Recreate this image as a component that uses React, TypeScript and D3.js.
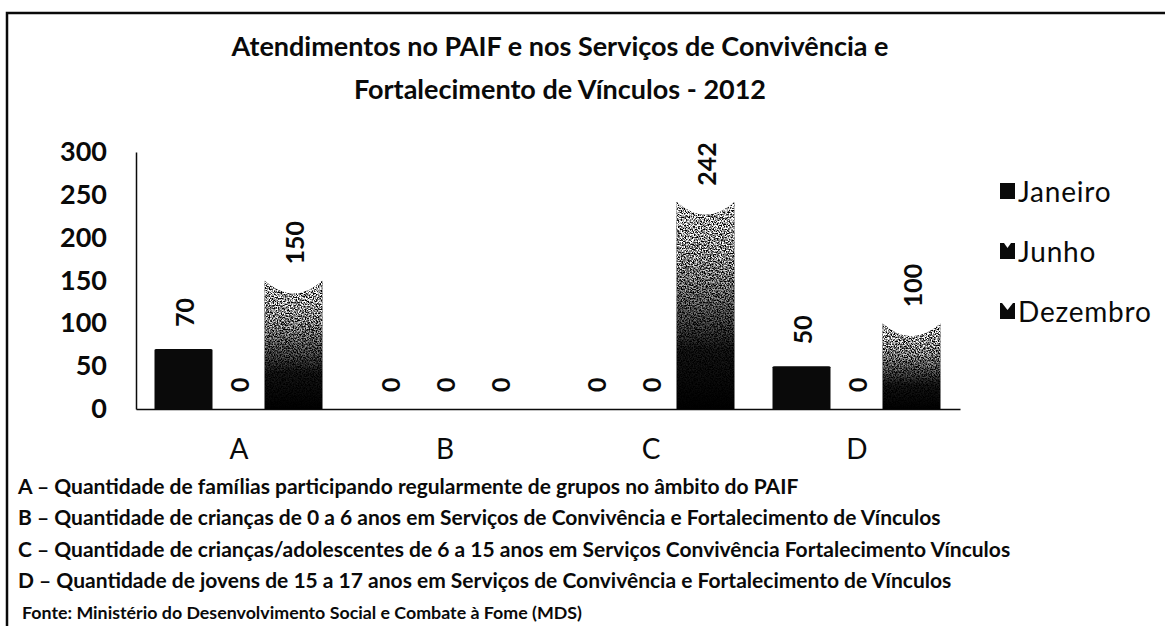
import * as React from "react";
import * as d3 from "d3";

const categories = ["A", "B", "C", "D"];
const seriesNames = ["Janeiro", "Junho", "Dezembro"];
const janeiro = [70, 0, 0, 50];
const junho = [0, 0, 0, 0];
const dezembro = [150, 0, 242, 100];
const yTicks = [0, 50, 100, 150, 200, 250, 300];

const titleLines = [
  "Atendimentos no PAIF e nos Serviços de Convivência e",
  "Fortalecimento de Vínculos - 2012",
];
const notes = [
  "A – Quantidade de famílias participando regularmente de grupos no âmbito do PAIF",
  "B – Quantidade de crianças de 0 a 6 anos em Serviços de Convivência e Fortalecimento de Vínculos",
  "C – Quantidade de crianças/adolescentes de 6 a 15 anos em Serviços Convivência Fortalecimento Vínculos",
  "D – Quantidade de jovens de 15 a 17 anos em Serviços de Convivência e Fortalecimento de Vínculos",
];
const source = "Fonte: Ministério do Desenvolvimento Social e Combate à Fome (MDS)";

function drawChart(svgRef) {
  const svg = d3.select(svgRef.current);
  svg.selectAll("*").remove();

  const width = 1165;
  const height = 626;
  const left = 136;
  const right = 960;
  const top = 152;
  const bottom = 409;
  const font = "Lato, 'Open Sans', sans-serif";
  const ink = "#0a0a0a";

  svg.attr("width", width).attr("height", height).style("background", "#fff");

  const defs = svg.append("defs");
  const grad = defs
    .append("linearGradient")
    .attr("id", "dezGrad")
    .attr("x1", 0)
    .attr("y1", 0)
    .attr("x2", 0)
    .attr("y2", 1);
  grad.append("stop").attr("offset", "0%").attr("stop-color", "#a0a0a0");
  grad.append("stop").attr("offset", "35%").attr("stop-color", "#606060");
  grad.append("stop").attr("offset", "72%").attr("stop-color", "#0c0c0c");
  grad.append("stop").attr("offset", "100%").attr("stop-color", "#000");

  // speckled, scanned look on the Dezembro bars
  const grain = defs
    .append("filter")
    .attr("id", "grain")
    .attr("x", 0)
    .attr("y", 0)
    .attr("width", 1)
    .attr("height", 1)
    .attr("color-interpolation-filters", "sRGB");
  grain
    .append("feTurbulence")
    .attr("type", "fractalNoise")
    .attr("baseFrequency", 0.75)
    .attr("numOctaves", 2)
    .attr("seed", 7)
    .attr("result", "noise");
  grain
    .append("feColorMatrix")
    .attr("in", "noise")
    .attr("type", "matrix")
    .attr("values", "1 0 0 0 0  1 0 0 0 0  1 0 0 0 0  0 0 0 0 1")
    .attr("result", "gray");
  const ct = grain
    .append("feComponentTransfer")
    .attr("in", "gray")
    .attr("result", "contrast");
  ["feFuncR", "feFuncG", "feFuncB"].forEach((f) =>
    ct.append(f).attr("type", "linear").attr("slope", 3.2).attr("intercept", -1.1)
  );
  grain
    .append("feComposite")
    .attr("in", "contrast")
    .attr("in2", "SourceGraphic")
    .attr("operator", "arithmetic")
    .attr("k1", 2.2)
    .attr("k2", 0)
    .attr("k3", 0)
    .attr("k4", 0)
    .attr("result", "mix");
  grain
    .append("feComposite")
    .attr("in", "mix")
    .attr("in2", "SourceGraphic")
    .attr("operator", "in");

  // frame
  svg
    .append("path")
    .attr("d", `M7,${height} V13 H${width}`)
    .attr("fill", "none")
    .attr("stroke", ink)
    .attr("stroke-width", 2.5);

  // title
  svg
    .append("g")
    .selectAll("text")
    .data(titleLines)
    .enter()
    .append("text")
    .attr("x", 560)
    .attr("y", (d, i) => 45 + i * 43)
    .attr("text-anchor", "middle")
    .attr("dominant-baseline", "central")
    .attr("font-family", font)
    .attr("font-weight", "bold")
    .attr("font-size", 27)
    .attr("fill", ink)
    .text((d) => d);

  const x = d3.scaleBand().domain(categories).range([left, right]);
  const xInner = d3.scaleBand().domain(seriesNames).range([20, 185]);
  const y = d3.scaleLinear().domain([0, 300]).range([bottom, top]);
  const bw = xInner.bandwidth() + 3;

  const yAxis = d3
    .axisLeft(y)
    .tickValues(yTicks)
    .tickSize(0)
    .tickSizeOuter(0)
    .tickPadding(29);

  const gy = svg
    .append("g")
    .attr("transform", `translate(${left},0)`)
    .call(yAxis);
  gy.select(".domain").attr("stroke", ink).attr("stroke-width", 1.5);
  gy.selectAll("text")
    .attr("font-family", font)
    .attr("font-weight", "bold")
    .attr("font-size", 27)
    .attr("fill", ink);

  const xAxis = d3.axisBottom(x).tickSize(0).tickSizeOuter(0).tickPadding(30);
  const gx = svg
    .append("g")
    .attr("transform", `translate(0,${bottom})`)
    .call(xAxis);
  gx.select(".domain").attr("stroke", ink).attr("stroke-width", 1.5);
  gx.selectAll("text")
    .attr("font-family", font)
    .attr("font-size", 28)
    .attr("fill", ink);

  const rows = categories.map((c, i) => ({
    cat: c,
    values: [
      { s: "Janeiro", v: janeiro[i] },
      { s: "Junho", v: junho[i] },
      { s: "Dezembro", v: dezembro[i] },
    ],
  }));

  const groups = svg
    .append("g")
    .selectAll("g")
    .data(rows)
    .enter()
    .append("g")
    .attr("transform", (d) => `translate(${x(d.cat)},0)`);

  const dip = 13;
  groups
    .selectAll("path.bar")
    .data((d) => d.values.filter((e) => e.v > 0))
    .enter()
    .append("path")
    .attr("class", "bar")
    .attr("d", (d) => {
      const cx = xInner(d.s) + xInner.bandwidth() / 2;
      const x0 = cx - bw / 2;
      const x1 = cx + bw / 2;
      const yt = y(d.v);
      if (d.s === "Dezembro") {
        return `M${x0},${yt} Q${cx},${yt + dip * 2} ${x1},${yt} L${x1},${bottom} L${x0},${bottom} Z`;
      }
      return `M${x0},${yt + 1} Q${x0},${yt} ${x0 + 2},${yt} L${x1 - 2},${yt} Q${x1},${yt} ${x1},${yt + 1} L${x1},${bottom} L${x0},${bottom} Z`;
    })
    .attr("fill", (d) => (d.s === "Dezembro" ? "url(#dezGrad)" : ink))
    .attr("filter", (d) => (d.s === "Dezembro" ? "url(#grain)" : null));

  groups
    .selectAll("text.lbl")
    .data((d) => d.values)
    .enter()
    .append("text")
    .attr("class", "lbl")
    .attr("transform", (d) => {
      const cx = xInner(d.s) + xInner.bandwidth() / 2;
      const off = d.v === 0 ? 17 : d.s === "Dezembro" ? 16 : 22;
      return `translate(${cx},${y(d.v) - off}) rotate(-90)`;
    })
    .attr("text-anchor", "start")
    .attr("dominant-baseline", "central")
    .attr("font-family", font)
    .attr("font-weight", "bold")
    .attr("font-size", 25)
    .attr("fill", ink)
    .text((d) => d.v);

  // legend
  const legend = svg
    .append("g")
    .selectAll("g")
    .data(seriesNames)
    .enter()
    .append("g")
    .attr("transform", (d, i) => `translate(1000,${191 + i * 60})`);

  legend
    .append("rect")
    .attr("x", 0)
    .attr("y", -8)
    .attr("width", 15)
    .attr("height", 16)
    .attr("fill", ink);
  legend
    .filter((d) => d === "Junho")
    .append("path")
    .attr("d", "M4,-8 L11,-8 L7.5,-3 Z")
    .attr("fill", "#fff");
  legend
    .filter((d) => d === "Dezembro")
    .append("path")
    .attr("d", "M2,-8 L13,-8 L7.5,-1 Z")
    .attr("fill", "#fff");
  legend
    .append("text")
    .attr("x", 18)
    .attr("y", 0)
    .attr("dominant-baseline", "central")
    .attr("font-family", font)
    .attr("font-size", 28)
    .attr("letter-spacing", 0.8)
    .attr("fill", ink)
    .text((d) => d);

  // notes
  svg
    .append("g")
    .selectAll("text")
    .data(notes)
    .enter()
    .append("text")
    .attr("x", 18)
    .attr("y", (d, i) => 485 + i * 31.5)
    .attr("dominant-baseline", "central")
    .attr("font-family", font)
    .attr("font-weight", "bold")
    .attr("font-size", 21)
    .attr("fill", ink)
    .text((d) => d);

  svg
    .append("text")
    .attr("x", 22)
    .attr("y", 612)
    .attr("dominant-baseline", "central")
    .attr("font-family", font)
    .attr("font-weight", "bold")
    .attr("font-size", 17)
    .attr("textLength", 560)
    .attr("lengthAdjust", "spacingAndGlyphs")
    .attr("fill", ink)
    .text(source);
}

const App = () => {
  const svg = React.useRef(null);
  React.useEffect(() => {
    drawChart(svg);
  }, [svg]);

  return (
    <svg
      ref={svg}
      style={{ position: "absolute", left: 0, top: 0, display: "block" }}
    />
  );
};

export default App;
